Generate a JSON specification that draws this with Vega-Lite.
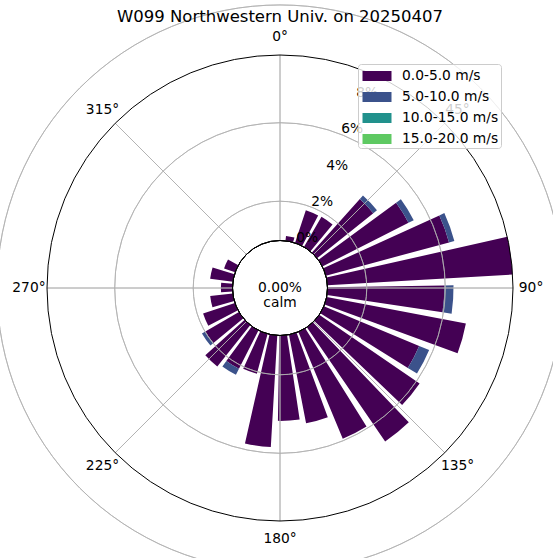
{
  "$schema": "https://vega.github.io/schema/vega-lite/v6.json",
  "width": 546,
  "height": 484,
  "autosize": {"type": "none"},
  "padding": {"left": 7, "top": 46, "right": 0, "bottom": 28},
  "background": "white",
  "config": {"view": {"stroke": null}, "font": "DejaVu Sans"},
  "datasets": {
    "bars": [
      {"dir": 11.3, "speed": "0.0-5.0 m/s", "pct": 0.25},
      {"dir": 23.1, "speed": "0.0-5.0 m/s", "pct": 1.75},
      {"dir": 34.9, "speed": "0.0-5.0 m/s", "pct": 1.78},
      {"dir": 46.6, "speed": "0.0-5.0 m/s", "pct": 3.67},
      {"dir": 46.6, "speed": "5.0-10.0 m/s", "pct": 0.24},
      {"dir": 58.4, "speed": "0.0-5.0 m/s", "pct": 4.92},
      {"dir": 58.4, "speed": "5.0-10.0 m/s", "pct": 0.30},
      {"dir": 70.2, "speed": "0.0-5.0 m/s", "pct": 6.5},
      {"dir": 70.2, "speed": "5.0-10.0 m/s", "pct": 0.28},
      {"dir": 82.0, "speed": "0.0-5.0 m/s", "pct": 9.45},
      {"dir": 93.8, "speed": "0.0-5.0 m/s", "pct": 5.95},
      {"dir": 93.8, "speed": "5.0-10.0 m/s", "pct": 0.47},
      {"dir": 105.5, "speed": "0.0-5.0 m/s", "pct": 7.22},
      {"dir": 117.3, "speed": "0.0-5.0 m/s", "pct": 5.26},
      {"dir": 117.3, "speed": "5.0-10.0 m/s", "pct": 0.55},
      {"dir": 129.1, "speed": "0.0-5.0 m/s", "pct": 6.2},
      {"dir": 140.9, "speed": "0.0-5.0 m/s", "pct": 7.06},
      {"dir": 152.7, "speed": "0.0-5.0 m/s", "pct": 5.9},
      {"dir": 164.4, "speed": "0.0-5.0 m/s", "pct": 4.6},
      {"dir": 176.2, "speed": "0.0-5.0 m/s", "pct": 4.35},
      {"dir": 188.0, "speed": "0.0-5.0 m/s", "pct": 5.7},
      {"dir": 199.8, "speed": "0.0-5.0 m/s", "pct": 2.1},
      {"dir": 211.6, "speed": "0.0-5.0 m/s", "pct": 2.2},
      {"dir": 211.6, "speed": "5.0-10.0 m/s", "pct": 0.34},
      {"dir": 223.3, "speed": "0.0-5.0 m/s", "pct": 2.7},
      {"dir": 235.1, "speed": "0.0-5.0 m/s", "pct": 1.98},
      {"dir": 235.1, "speed": "5.0-10.0 m/s", "pct": 0.2},
      {"dir": 246.9, "speed": "0.0-5.0 m/s", "pct": 1.71},
      {"dir": 258.7, "speed": "0.0-5.0 m/s", "pct": 1.16},
      {"dir": 270.5, "speed": "0.0-5.0 m/s", "pct": 0.59},
      {"dir": 282.2, "speed": "0.0-5.0 m/s", "pct": 1.17},
      {"dir": 294.0, "speed": "0.0-5.0 m/s", "pct": 0.6}
    ],
    "grid": [{"g": 2}, {"g": 4}, {"g": 6}, {"g": 8}],
    "spokes": [{"a": 0}, {"a": 45}, {"a": 90}, {"a": 135}, {"a": 180}, {"a": 225}, {"a": 270}, {"a": 315}],
    "rlabels": [{"g": 0, "label": "0%"}, {"g": 2, "label": "2%"}, {"g": 4, "label": "4%"}, {"g": 6, "label": "6%"}, {"g": 8, "label": "8%"}],
    "alabels": [{"a": 0, "label": "0°"}, {"a": 45, "label": "45°"}, {"a": 90, "label": "90°"}, {"a": 135, "label": "135°"}, {"a": 180, "label": "180°"}, {"a": 225, "label": "225°"}, {"a": 270, "label": "270°"}, {"a": 315, "label": "315°"}]
  },
  "layer": [
    {
      "data": {"name": "bars"},
      "transform": [{"stack": "pct", "groupby": ["dir"], "sort": [{"field": "speed", "order": "ascending"}], "as": ["p0", "p1"]}],
      "mark": {"type": "arc", "thetaOffset": -0.082, "theta2Offset": 0.082},
      "encoding": {
        "theta": {"field": "dir", "type": "quantitative", "stack": null, "scale": {"type": "linear", "domain": [0, 360], "range": [0, 6.283185307]}},
        "theta2": {"field": "dir"},
        "radius": {"field": "p1", "type": "quantitative", "scale": {"type": "linear", "domain": [0, 9.45], "range": [47.5, 233], "zero": false}},
        "radius2": {"field": "p0"},
        "color": {
          "field": "speed", "type": "nominal",
          "scale": {"domain": ["0.0-5.0 m/s", "5.0-10.0 m/s", "10.0-15.0 m/s", "15.0-20.0 m/s"], "range": ["#440154", "#3b528b", "#21918c", "#5ec962"]},
          "legend": {
            "orient": "none", "legendX": 351, "legendY": 18, "title": null,
            "symbolType": "M-1.45,-0.5H1.45V0.5H-1.45Z", "symbolSize": 400, "symbolStrokeWidth": 0, "symbolOpacity": 1,
            "labelFont": "DejaVu Sans", "labelFontSize": 13.8, "labelColor": "black",
            "padding": 2, "rowPadding": 4, "labelOffset": 15, "symbolOffset": 7,
            "fillColor": "rgba(255,255,255,0.8)", "strokeColor": "#cccccc", "cornerRadius": 3
          }
        }
      }
    },
    {
      "data": {"name": "grid"},
      "mark": {"type": "arc", "theta": 0, "theta2": 6.2832, "filled": false, "stroke": "#b0b0b0", "strokeWidth": 0.8},
      "encoding": {
        "radius": {"field": "g", "type": "quantitative", "scale": {"type": "linear", "domain": [0, 9.45], "range": [47.5, 233], "zero": false}}
      }
    },
    {
      "data": {"name": "spokes"},
      "mark": {"type": "arc", "filled": false, "stroke": "#b0b0b0", "strokeWidth": 0.8},
      "encoding": {
        "theta": {"field": "a", "type": "quantitative", "scale": {"type": "linear", "domain": [0, 360], "range": [0, 6.283185307]}},
        "theta2": {"field": "a"},
        "radius": {"datum": 9.45, "type": "quantitative", "scale": {"type": "linear", "domain": [0, 9.45], "range": [47.5, 233], "zero": false}},
        "radius2": {"datum": 0}
      }
    },
    {
      "data": {"values": [{"edge": 9.45}]},
      "mark": {"type": "arc", "theta": 0, "theta2": 6.2832, "filled": false, "stroke": "black", "strokeWidth": 1},
      "encoding": {
        "radius": {"field": "edge", "type": "quantitative", "scale": {"type": "linear", "domain": [0, 9.45], "range": [47.5, 233], "zero": false}}
      }
    },
    {
      "data": {"values": [{"calm": 0}]},
      "mark": {"type": "arc", "theta": 0, "theta2": 6.2832, "fill": "white", "stroke": "black", "strokeWidth": 1},
      "encoding": {
        "radius": {"field": "calm", "type": "quantitative", "scale": {"type": "linear", "domain": [0, 9.45], "range": [47.5, 233], "zero": false}}
      }
    },
    {
      "data": {"values": [{"txt": "0.00%\ncalm"}]},
      "mark": {"type": "text", "lineBreak": "\n", "align": "center", "baseline": "middle", "font": "DejaVu Sans", "fontSize": 13.8, "lineHeight": 15, "color": "black"},
      "encoding": {"text": {"field": "txt"}}
    },
    {
      "data": {"name": "rlabels"},
      "mark": {"type": "text", "align": "center", "baseline": "middle", "font": "DejaVu Sans", "fontSize": 13.8, "dx": 9, "dy": -6, "color": "black"},
      "encoding": {
        "theta": {"datum": 22.5, "type": "quantitative", "scale": {"type": "linear", "domain": [0, 360], "range": [0, 6.283185307]}},
        "radius": {"field": "g", "type": "quantitative", "scale": {"type": "linear", "domain": [0, 9.45], "range": [47.5, 233], "zero": false}},
        "text": {"field": "label"}
      }
    },
    {
      "data": {"name": "alabels"},
      "mark": {"type": "text", "align": "center", "baseline": "middle", "font": "DejaVu Sans", "fontSize": 13.8, "color": "black"},
      "encoding": {
        "theta": {"field": "a", "type": "quantitative", "scale": {"type": "linear", "domain": [0, 360], "range": [0, 6.283185307]}},
        "radius": {"datum": 10.37, "type": "quantitative", "scale": {"type": "linear", "domain": [0, 9.45], "range": [47.5, 233], "zero": false}},
        "text": {"field": "label"}
      }
    },
    {
      "data": {"values": [{"title": "W099 Northwestern Univ. on 20250407"}]},
      "mark": {"type": "text", "align": "center", "baseline": "middle", "font": "DejaVu Sans", "fontSize": 16.5, "color": "black"},
      "encoding": {
        "theta": {"datum": 0, "type": "quantitative", "scale": {"type": "linear", "domain": [0, 360], "range": [0, 6.283185307]}},
        "radius": {"datum": 11.39, "type": "quantitative", "scale": {"type": "linear", "domain": [0, 9.45], "range": [47.5, 233], "zero": false}},
        "text": {"field": "title"}
      }
    }
  ]
}
